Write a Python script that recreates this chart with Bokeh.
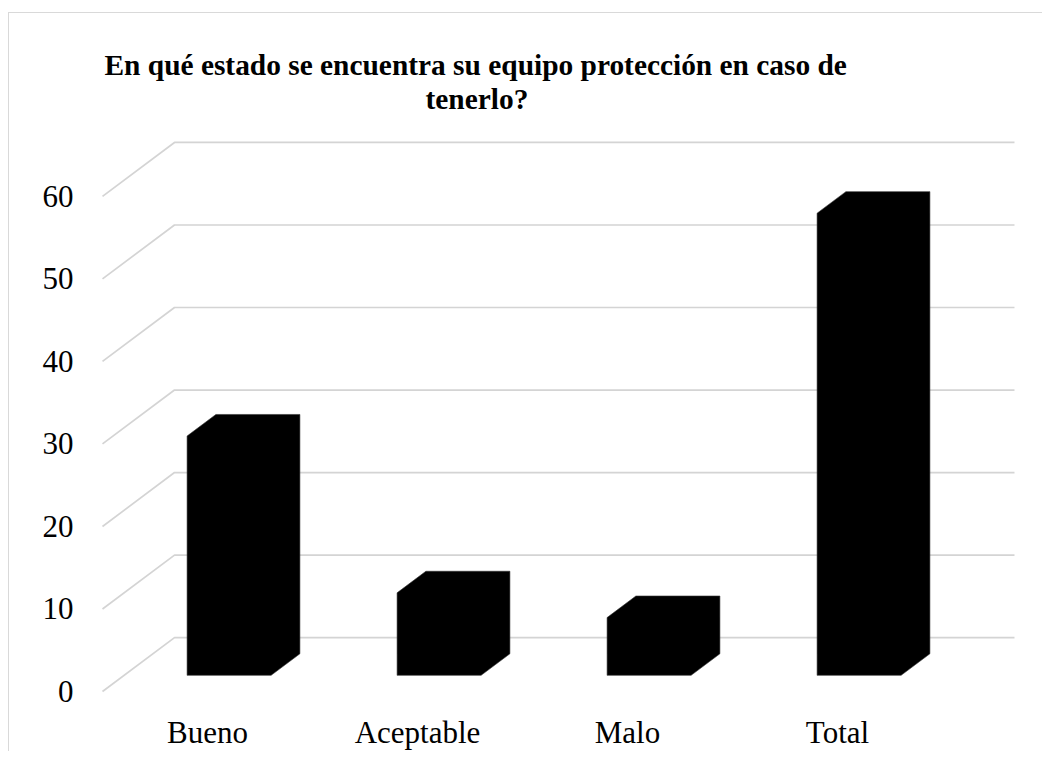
from bokeh.plotting import figure
from bokeh.models import FixedTicker, Title, LinearAxis
from bokeh.embed import file_html
from bokeh.resources import INLINE

# ---- data ----
categories = ["Bueno", "Aceptable", "Malo", "Total"]
values = [29, 10, 7, 56]
y_ticks = [0, 10, 20, 30, 40, 50, 60]
title_line1 = "En qué estado se encuentra su equipo protección en caso de"
title_line2 = "tenerlo?"

# ---- 3D oblique projection settings (in data units) ----
PX_X = 210.0            # px per category unit
PX_Y = 496.0 / 60.0     # px per value unit
DX = 72.0 / PX_X        # depth shift in x for full depth
DY = 54.0 / PX_Y        # depth shift in y for full depth
D0, D1 = 0.3, 0.7       # bar front / back depth
BAR_W = 0.4
N = len(categories)

def proj(x, v, d):
    return x + d * DX, v + d * DY

W, H = 1034, 739
FL, FR, FT, FB = 91, 27, 101, 52
fw, fh = W - FL - FR, H - FT - FB
x0 = -2.0 / PX_X
y0 = -8.0 / PX_Y
p = figure(width=W, height=H,
           x_range=(x0, x0 + fw / PX_X), y_range=(y0, y0 + fh / PX_Y),
           output_backend="svg", toolbar_location=None,
           min_border_left=FL, min_border_right=FR,
           min_border_top=FT, min_border_bottom=FB,
           x_axis_type=None, y_axis_type=None)
p.outline_line_color = None
p.background_fill_color = "white"
p.border_fill_color = "white"
p.styles = {"border-left": "1px solid #d9d9d9", "border-top": "1px solid #d9d9d9",
            "margin-top": "12px", "margin-left": "8px"}

# ---- gridlines: side diagonal + back wall horizontal ----
gx, gy = [], []
for t in y_ticks:
    ax, ay = proj(0, t, 0)
    bx, by = proj(0, t, 1)
    cx, cy = proj(N, t, 1)
    gx.append([ax, bx, cx])
    gy.append([ay, by, cy])
p.multi_line(gx, gy, line_color="#d4d4d4", line_width=1.7)

# ---- 3D bars ----
bxs, bys = [], []
for i, v in enumerate(values):
    l = i + 0.5 - BAR_W / 2
    r = i + 0.5 + BAR_W / 2
    pts = [proj(l, 0, D0), proj(l, v, D0), proj(l, v, D1),
           proj(r, v, D1), proj(r, 0, D1), proj(r, 0, D0)]
    bxs.append([q[0] for q in pts])
    bys.append([q[1] for q in pts])
p.patches(bxs, bys, fill_color="black", line_color="#333333", line_width=0.6)

# ---- axes ----
font = "Liberation Serif"
yax = LinearAxis(ticker=FixedTicker(ticks=y_ticks))
yax.axis_line_color = None
yax.major_tick_line_color = None
yax.minor_tick_line_color = None
yax.major_label_standoff = 21
yax.major_label_text_font = font
yax.major_label_text_font_size = "31px"
yax.major_label_text_color = "black"
p.add_layout(yax, "left")

xax = LinearAxis(ticker=FixedTicker(ticks=[i + 0.5 for i in range(N)]))
xax.major_label_overrides = {i + 0.5: c for i, c in enumerate(categories)}
xax.axis_line_color = None
xax.major_tick_line_color = None
xax.minor_tick_line_color = None
xax.major_label_standoff = 9
xax.major_label_text_font = font
xax.major_label_text_font_size = "31px"
xax.major_label_text_color = "black"
p.add_layout(xax, "below")

# ---- title (two lines) ----
t2 = Title(text=title_line2, align="left", offset=325, standoff=0,
           text_font=font, text_font_size="29.4px", text_font_style="bold",
           text_color="black")
t1 = Title(text=title_line1, align="left", offset=4, standoff=0,
           text_font=font, text_font_size="29.4px", text_font_style="bold",
           text_color="black")
p.add_layout(t2, "above")
p.add_layout(t1, "above")

open("out.html", "w").write(file_html(p, INLINE))
